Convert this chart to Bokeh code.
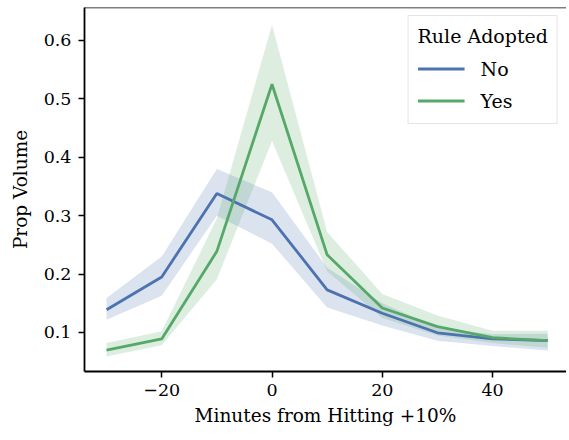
from bokeh.plotting import figure
from bokeh.models import ColumnDataSource, Range1d, FixedTicker, Span, Legend, LegendItem
from bokeh.embed import file_html
from bokeh.resources import INLINE

minutes = [-30, -20, -10, 0, 10, 20, 30, 40, 50]
no_mean = [0.139, 0.195, 0.338, 0.293, 0.173, 0.133, 0.0995, 0.089, 0.086]
no_lo = [0.122, 0.163, 0.300, 0.252, 0.143, 0.112, 0.086, 0.077, 0.069]
no_hi = [0.159, 0.230, 0.380, 0.340, 0.211, 0.150, 0.108, 0.097, 0.098]
yes_mean = [0.070, 0.089, 0.239, 0.525, 0.233, 0.142, 0.110, 0.091, 0.086]
yes_lo = [0.059, 0.078, 0.191, 0.428, 0.205, 0.125, 0.095, 0.082, 0.074]
yes_hi = [0.082, 0.102, 0.295, 0.627, 0.272, 0.166, 0.129, 0.103, 0.103]
x_ticks = [-20, 0, 20, 40]
y_ticks = [0.1, 0.2, 0.3, 0.4, 0.5, 0.6]
series_names = ["No", "Yes"]
legend_title = "Rule Adopted"
x_label = "Minutes from Hitting +10%"
y_label = "Prop Volume"

BLUE = "#4c72b0"
GREEN = "#55a868"
FONT = "DejaVu Serif"

p = figure(width=566, height=435, output_backend="svg", toolbar_location=None,
           x_range=Range1d(-34.0, 53.4), y_range=Range1d(0.0332, 0.6565),
           min_border_left=84, min_border_right=0, min_border_top=7, min_border_bottom=64)
p.outline_line_color = None
p.grid.visible = False
p.background_fill_color = "white"

src_no = ColumnDataSource(dict(x=minutes, y=no_mean, lo=no_lo, hi=no_hi))
src_yes = ColumnDataSource(dict(x=minutes, y=yes_mean, lo=yes_lo, hi=yes_hi))

p.varea(x="x", y1="lo", y2="hi", source=src_no, fill_color=BLUE, fill_alpha=0.2)
p.varea(x="x", y1="lo", y2="hi", source=src_yes, fill_color=GREEN, fill_alpha=0.2)
r_no = p.line("x", "y", source=src_no, line_color=BLUE, line_width=2.8)
r_yes = p.line("x", "y", source=src_yes, line_color=GREEN, line_width=2.8)

# top spine
p.add_layout(Span(location=0.6565, dimension="width", line_color="black", line_width=1.6))

for ax in (p.xaxis[0], p.yaxis[0]):
    ax.axis_line_color = "black"
    ax.axis_line_width = 1.8
    ax.major_tick_line_color = "black"
    ax.major_tick_line_width = 1.5
    ax.major_tick_out = 6
    ax.major_tick_in = 0
    ax.minor_tick_line_color = None
    ax.major_label_text_font = FONT
    ax.major_label_text_font_size = "17.5px"
    ax.major_label_text_font_style = "normal"
    ax.major_label_text_color = "black"
    ax.axis_label_text_font = FONT
    ax.axis_label_text_font_size = "18.5px"
    ax.axis_label_text_font_style = "normal"
    ax.axis_label_text_color = "black"

p.xaxis.ticker = FixedTicker(ticks=x_ticks)
p.xaxis.major_label_overrides = {t: (str(t).replace("-", "\u2212")) for t in x_ticks}
p.xaxis.axis_label = x_label
p.xaxis.major_label_standoff = 6
p.xaxis.axis_label_standoff = 6

p.yaxis.ticker = FixedTicker(ticks=y_ticks)
p.yaxis.major_label_overrides = {t: f"{t:.1f}" for t in y_ticks}
p.yaxis.axis_label = y_label
p.yaxis.major_label_standoff = 7
p.yaxis.axis_label_standoff = 10

legend = Legend(items=[LegendItem(label=series_names[0], renderers=[r_no]),
                       LegendItem(label=series_names[1], renderers=[r_yes])],
                location="top_right", title=legend_title)
legend.title_text_font = FONT
legend.title_text_font_size = "19px"
legend.title_text_font_style = "normal"
legend.title_text_color = "black"
legend.title_standoff = 8
legend.label_text_font = FONT
legend.label_text_font_size = "19px"
legend.label_text_font_style = "normal"
legend.label_text_color = "black"
legend.glyph_width = 47
legend.glyph_height = 27
legend.label_standoff = 16
legend.spacing = 5
legend.padding = 9
legend.margin = 8
legend.border_line_color = "#cccccc"
legend.border_line_width = 1.5
legend.background_fill_alpha = 0.85
p.add_layout(legend)

open("out.html", "w").write(file_html(p, INLINE))
